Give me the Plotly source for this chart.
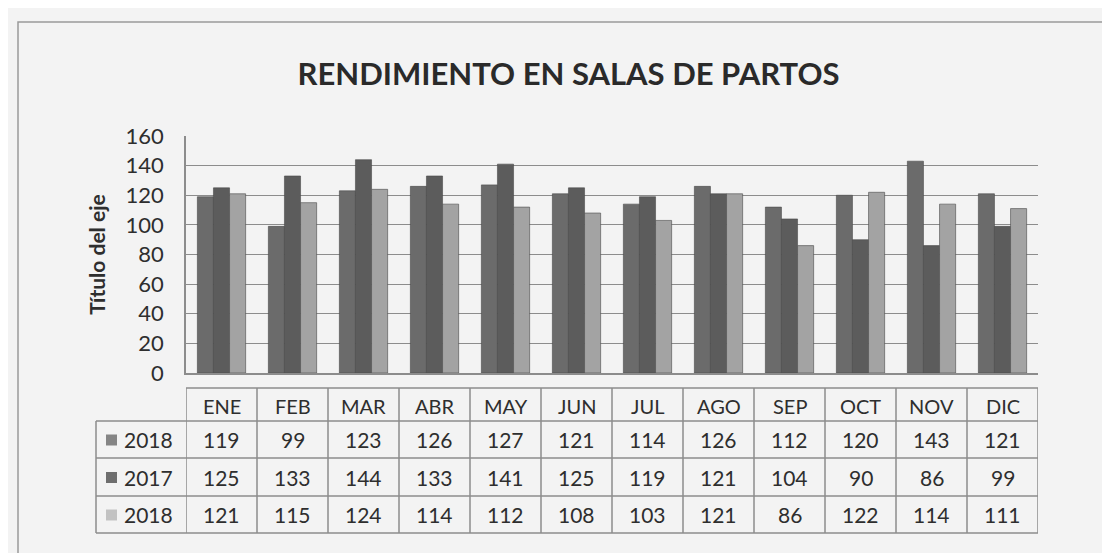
import plotly.graph_objects as go

months = ['ENE', 'FEB', 'MAR', 'ABR', 'MAY', 'JUN', 'JUL', 'AGO', 'SEP', 'OCT', 'NOV', 'DIC']
series_names = ['2018', '2017', '2018']
values_2018_a = [119, 99, 123, 126, 127, 121, 114, 126, 112, 120, 143, 121]
values_2017 = [125, 133, 144, 133, 141, 125, 119, 121, 104, 90, 86, 99]
values_2018_b = [121, 115, 124, 114, 112, 108, 103, 121, 86, 122, 114, 111]
y_ticks = [0, 20, 40, 60, 80, 100, 120, 140, 160]

series_values = [values_2018_a, values_2017, values_2018_b]
bar_colors = ['#6b6b6b', '#5c5c5c', '#a3a3a3']
legend_colors = ['#858585', '#6e6e6e', '#c2c2c2']

W, H = 1110, 553
L, R, T, B = 178, 80, 128, 188
PW, PH = W - L - R, H - T - B
BG = '#f3f3f3'
FONT = 'Lato, Open Sans, sans-serif'
TXT = '#2e2e2e'
GRID = '#8c8c8c'


def px_y(py):
    return (H - B - py) / PH


def px_x(px):
    return (px - L) / PW


fig = go.Figure()
for name, vals, col in zip(series_names, series_values, bar_colors):
    fig.add_trace(go.Bar(x=months, y=vals, name=name, marker=dict(color=col, line=dict(color='#4a4a4a', width=0.6)),
                         showlegend=False, hovertemplate='%{x}: %{y}<extra>' + name + '</extra>'))

shapes = []
annotations = []

# table geometry (pixel rows)
row_edges = [380, 413, 450, 488, 525]
n = len(months)
label_left_px = 88
line = dict(color=GRID, width=1.5)

# horizontal table lines (paper coords so the label column outside the plot is drawn)
shapes.append(dict(type='line', xref='paper', yref='paper', x0=0, x1=1,
                   y0=px_y(row_edges[0]), y1=px_y(row_edges[0]), line=line))
for py in row_edges[1:]:
    shapes.append(dict(type='line', xref='paper', yref='paper', x0=px_x(label_left_px), x1=1,
                       y0=px_y(py), y1=px_y(py), line=line))
# vertical table lines at category boundaries
for i in range(n + 1):
    shapes.append(dict(type='line', xref='x', yref='paper', x0=i - 0.5, x1=i - 0.5,
                       y0=px_y(row_edges[0]), y1=px_y(row_edges[-1]), line=line))
shapes.append(dict(type='line', xref='paper', yref='paper', x0=px_x(label_left_px), x1=px_x(label_left_px),
                   y0=px_y(row_edges[1]), y1=px_y(row_edges[-1]), line=line))

# header
hy = px_y((row_edges[0] + row_edges[1]) / 2 + 1)
for m in months:
    annotations.append(dict(x=m, y=hy, xref='x', yref='paper', text=m, showarrow=False, yanchor='middle',
                            font=dict(family=FONT, size=20, color=TXT)))
# rows
for r, (name, vals, lc) in enumerate(zip(series_names, series_values, legend_colors)):
    cy = px_y((row_edges[r + 1] + row_edges[r + 2]) / 2)
    for m, v in zip(months, vals):
        annotations.append(dict(x=m, y=cy, xref='x', yref='paper', text=str(v), showarrow=False, yanchor='middle',
                                font=dict(family=FONT, size=21, color=TXT)))
    annotations.append(dict(x=px_x(114), y=cy, xref='paper', yref='paper', text=name, showarrow=False,
                            xanchor='left', yanchor='middle', font=dict(family=FONT, size=21, color=TXT)))
    shapes.append(dict(type='rect', xref='paper', yref='paper', x0=px_x(98), x1=px_x(109),
                       y0=cy - 6 / PH, y1=cy + 5 / PH, fillcolor=lc, line=dict(width=0)))

# chart border
shapes.append(dict(type='rect', xref='paper', yref='paper', x0=px_x(10), x1=px_x(1103),
                   y0=px_y(547), y1=px_y(14), line=dict(color='#9a9a9a', width=1.5)))

fig.update_layout(
    width=W, height=H,
    margin=dict(l=L, r=R, t=T, b=B),
    paper_bgcolor=BG, plot_bgcolor=BG,
    barmode='group', bargap=0.32, bargroupgap=0.0,
    title=dict(text='<b>RENDIMIENTO EN SALAS DE PARTOS</b>', x=0.505, xanchor='center', y=1 - 66 / H, yanchor='middle',
               font=dict(family=FONT, size=31, color='#2a2a2a')),
    shapes=shapes, annotations=annotations,
    font=dict(family=FONT, color=TXT),
)
fig.update_xaxes(showticklabels=False, showgrid=False, showline=True, linecolor=GRID, linewidth=1.5,
                 range=[-0.5, n - 0.5])
fig.update_yaxes(range=[0, 160], tickvals=y_ticks, showgrid=True, gridcolor=GRID, gridwidth=1.3,
                 showline=True, linecolor=GRID, linewidth=1.5, zeroline=False,
                 tickfont=dict(family=FONT, size=22, color=TXT), ticks='', ticklabelstandoff=16,
                 title=dict(text='<b>Título del eje</b>', font=dict(family=FONT, size=21, color=TXT), standoff=14))

fig.write_html('out.html')
